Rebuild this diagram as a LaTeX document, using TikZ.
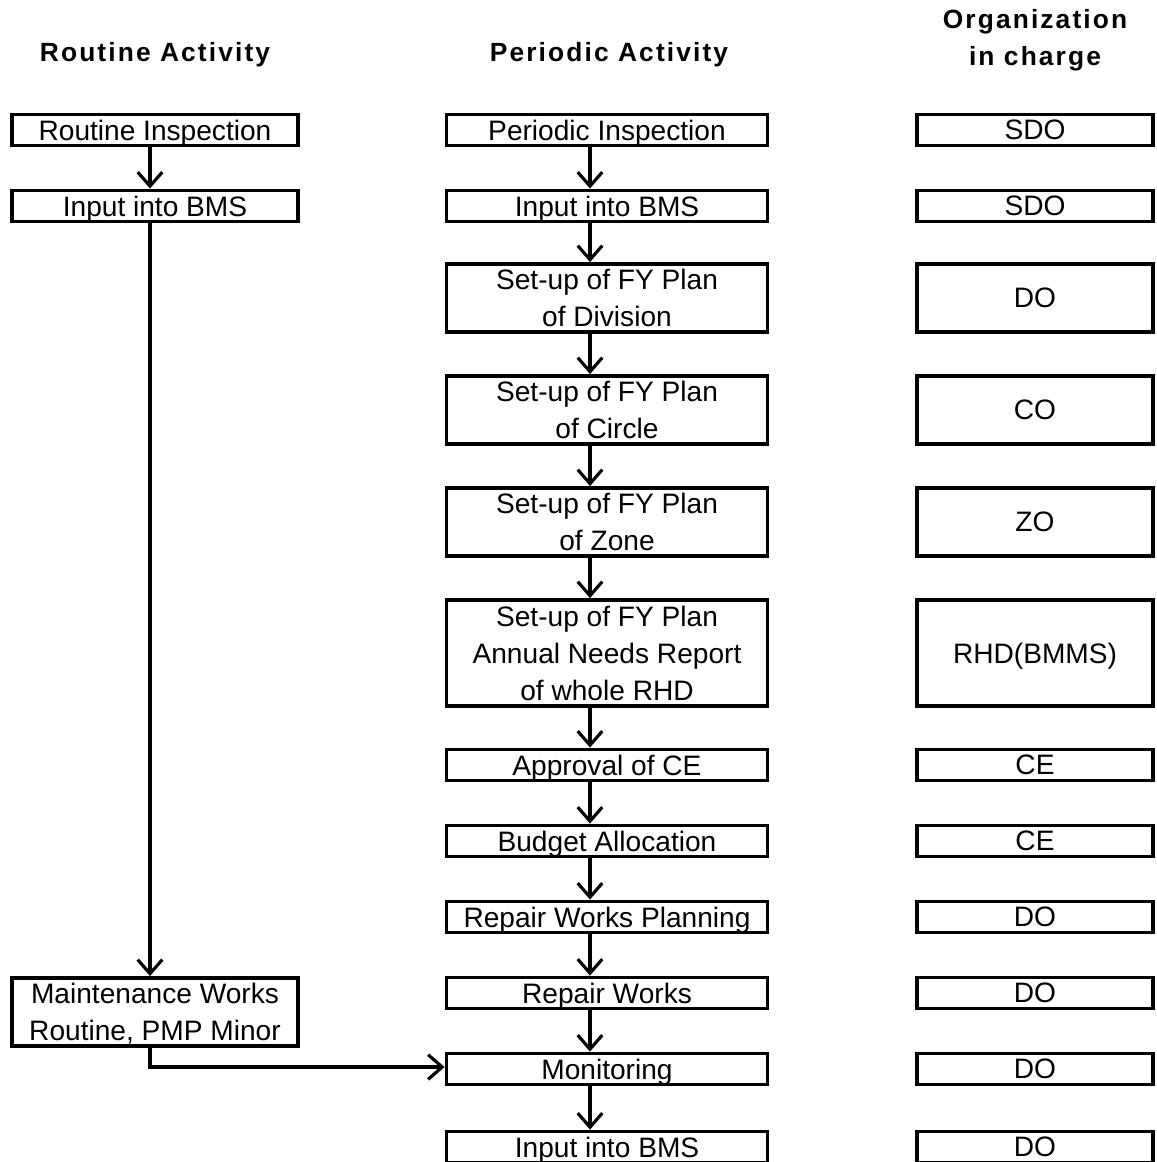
\documentclass[tikz,border=0pt]{standalone}
\usepackage{fontspec}
\setmainfont{Liberation Sans}
\usetikzlibrary{arrows.meta,calc}

\tikzset{
  box/.style={draw,line width=2.2pt,align=center,inner sep=0pt,text depth=0pt,
    font=\fontsize{16pt}{21pt}\selectfont},
  lbox/.style={box,minimum width=5.72cm},
  mbox/.style={box,minimum width=6.42cm},
  obox/.style={box,minimum width=4.72cm},
  low/.style={minimum height=0.62cm},
  mid/.style={minimum height=1.36cm},
  tall/.style={minimum height=2.12cm},
  head/.style={align=center,font=\fontsize{15pt}{21pt}\selectfont\bfseries\addfontfeatures{LetterSpace=8}},
  arr/.style={line width=1.8pt,-{Straight Barb[length=8pt,width=14pt,line width=1.8pt]}}
}

\begin{document}
\begin{tikzpicture}[x=0.02cm,y=-0.02cm]
  \useasboundingbox (0,0) rectangle (1156,1162);
  % headers
  \node[head] (hr) at (155,55) {Routine Activity};
  \node[head] (hp) at (609,55) {Periodic Activity};
  \node[head] (ho) at (1035,40) {Organization\\in charge};
  % routine activity
  \node[lbox,low] (r1) at (155,130) {Routine Inspection};
  \node[lbox,low] (r2) at (155,206) {Input into BMS};
  \node[lbox,mid] (r3) at (155,1012) {Maintenance Works\\Routine, PMP Minor};
  % periodic activity
  \node[mbox,low] (p1) at (607,130) {Periodic Inspection};
  \node[mbox,low] (p2) at (607,206) {Input into BMS};
  \node[mbox,mid] (p3) at (607,298) {Set-up of FY Plan\\of Division};
  \node[mbox,mid] (p4) at (607,410) {Set-up of FY Plan\\of Circle};
  \node[mbox,mid] (p5) at (607,522) {Set-up of FY Plan\\of Zone};
  \node[mbox,tall] (p6) at (607,653) {Set-up of FY Plan\\Annual Needs Report\\of whole RHD};
  \node[mbox,low] (p7) at (607,765) {Approval of CE};
  \node[mbox,low] (p8) at (607,841) {Budget Allocation};
  \node[mbox,low] (p9) at (607,917) {Repair Works Planning};
  \node[mbox,low] (p10) at (607,993) {Repair Works};
  \node[mbox,low] (p11) at (607,1069) {Monitoring};
  \node[mbox,low] (p12) at (607,1147) {Input into BMS};
  % organization in charge
  \node[obox,low] (o1) at (1035,130) {SDO};
  \node[obox,low] (o2) at (1035,206) {SDO};
  \node[obox,mid] (o3) at (1035,298) {DO};
  \node[obox,mid] (o4) at (1035,410) {CO};
  \node[obox,mid] (o5) at (1035,522) {ZO};
  \node[obox,tall] (o6) at (1035,653) {RHD(BMMS)};
  \node[obox,low] (o7) at (1035,765) {CE};
  \node[obox,low] (o8) at (1035,841) {CE};
  \node[obox,low] (o9) at (1035,917) {DO};
  \node[obox,low] (o10) at (1035,993) {DO};
  \node[obox,low] (o11) at (1035,1069) {DO};
  \node[obox,low] (o12) at (1035,1147) {DO};
  % arrows
  \draw[arr] ($(r1.south)+(-5,0)$) -- ($(r2.north)+(-5,0)$);
  \draw[arr] ($(r2.south)+(-5,0)$) -- ($(r3.north)+(-5,0)$);
  \draw[arr] ($(r3.south)+(-5,0)$) |- ($(p11.west)+(0,-2)$);
  \foreach \a/\b in {p1/p2,p2/p3,p3/p4,p4/p5,p5/p6,p6/p7,p7/p8,p8/p9,p9/p10,p10/p11,p11/p12}
    \draw[arr] ($(\a.south)+(-17,0)$) -- ($(\b.north)+(-17,0)$);
\end{tikzpicture}
\end{document}
